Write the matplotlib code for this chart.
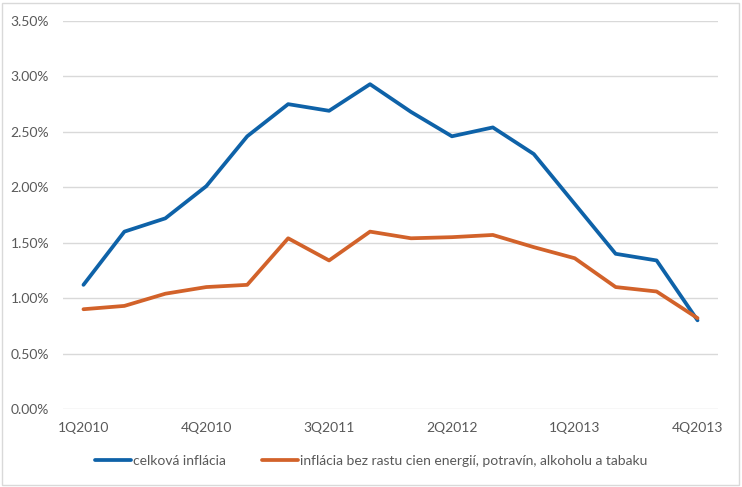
import matplotlib
matplotlib.use("Agg")
import matplotlib.pyplot as plt
from matplotlib.ticker import FuncFormatter
from matplotlib.patches import Rectangle

quarters = [f"{q}Q{y}" for y in range(2010, 2014) for q in range(1, 5)]
celkova = [1.12, 1.60, 1.72, 2.01, 2.46, 2.75, 2.69, 2.93, 2.68, 2.46, 2.54, 2.30, 1.85, 1.40, 1.34, 0.80]
jadrova = [0.90, 0.93, 1.04, 1.10, 1.12, 1.54, 1.34, 1.60, 1.54, 1.55, 1.57, 1.46, 1.36, 1.10, 1.06, 0.82]
series_labels = ["celková inflácia", "inflácia bez rastu cien energií, potravín, alkoholu a tabaku"]
yticks = [0.0, 0.5, 1.0, 1.5, 2.0, 2.5, 3.0, 3.5]

plt.rcParams['font.family'] = ['Lato', 'DejaVu Sans']

fig = plt.figure(figsize=(7.42, 4.87), dpi=100)
ax = fig.add_axes([63/742, 1 - 409/487, (718-63)/742, (409-21)/487])

x = list(range(len(quarters)))
ax.plot(x, celkova, color='#0E62A8', lw=2.7, label=series_labels[0], solid_capstyle='round')
ax.plot(x, jadrova, color='#D2622A', lw=2.7, label=series_labels[1], solid_capstyle='round')

ax.set_ylim(0, 3.5)
ax.set_xlim(-0.5, 15.5)
ax.set_yticks(yticks)
ax.yaxis.set_major_formatter(FuncFormatter(lambda v, p: f"{v:.2f}%"))
ax.set_xticks(x[::3])
ax.set_xticklabels(quarters[::3])
ax.grid(axis='y', color='#D9D9D9', lw=1)
ax.set_axisbelow(True)
for s in ax.spines.values():
    s.set_visible(False)
ax.tick_params(axis='both', length=0, colors='#595959', labelsize=10)
ax.tick_params(axis='y', pad=10)
ax.tick_params(axis='x', pad=9)

leg = fig.legend(loc='center', bbox_to_anchor=(0.5, 1 - 461/487), ncol=2, frameon=False,
                 fontsize=10, handlelength=2.6, handletextpad=0.15, columnspacing=2.6)
for t in leg.get_texts():
    t.set_color('#595959')

fig.patches.append(Rectangle((2/742, 2/487), 1 - 5/742, 1 - 5/487, transform=fig.transFigure,
                             fill=False, edgecolor='#D9D9D9', lw=1))

fig.savefig('out.png', dpi=100)
